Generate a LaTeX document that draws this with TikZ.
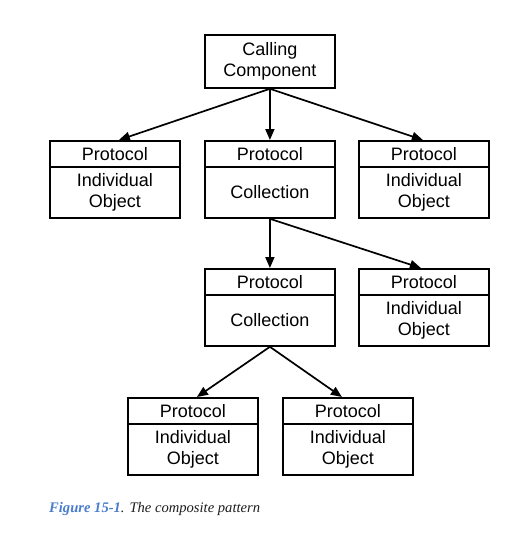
\documentclass[tikz,border=0pt]{standalone}
\usepackage{fontspec}
\setmainfont{Liberation Sans}
\newfontfamily\capfont{Liberation Serif}
\usetikzlibrary{arrows.meta,positioning}
\definecolor{capblue}{RGB}{74,124,206}
\definecolor{captext}{RGB}{30,30,30}
\begin{document}
\begin{tikzpicture}[x=1pt,y=-1pt,
  box/.style={draw=black,line width=1.8pt,minimum width=130pt,inner sep=0pt,
    font=\fontsize{18}{21.5}\selectfont,align=center,anchor=north west},
  head/.style={box,minimum height=26pt},
  body/.style={box,minimum height=51pt},
  conn/.style={line width=1.7pt,-{Triangle[length=11pt,width=9pt]}}]
\useasboundingbox[fill=white] (0,0) rectangle (505,536);
% calling component
\node[box,minimum height=53pt] (cc) at (204,34) {Calling\\Component};
% row 1
\node[head] (p1) at (49,140) {Protocol};
\node[body] (b1) at (49,166) {Individual\\Object};
\node[head] (p2) at (204,140) {Protocol};
\node[body] (b2) at (204,166) {Collection};
\node[head] (p3) at (358,140) {Protocol};
\node[body] (b3) at (358,166) {Individual\\Object};
% row 2
\node[head] (p4) at (204,268) {Protocol};
\node[body] (b4) at (204,294) {Collection};
\node[head] (p5) at (358,268) {Protocol};
\node[body] (b5) at (358,294) {Individual\\Object};
% row 3
\node[head] (p6) at (127,397) {Protocol};
\node[body] (b6) at (127,423) {Individual\\Object};
\node[head] (p7) at (282,397) {Protocol};
\node[body] (b7) at (282,423) {Individual\\Object};
% connectors
\draw[conn] (cc.south) -- ([xshift=4pt]p1.north);
\draw[conn] (cc.south) -- (p2.north);
\draw[conn] (cc.south) -- ([xshift=-1pt]p3.north);
\draw[conn] (b2.south) -- (p4.north);
\draw[conn] (b2.south) -- ([xshift=-3pt]p5.north);
\draw[conn] (b4.south) -- ([xshift=4pt]p6.north);
\draw[conn] (b4.south) -- ([xshift=-6pt]p7.north);
% caption
\node[anchor=west,inner sep=0pt,font=\capfont\itshape\fontsize{14.6}{17}\selectfont] (cap) at (49,509)
  {\textcolor{capblue}{\bfseries Figure 15-1}\textcolor{captext}{. The composite pattern}};
\end{tikzpicture}
\end{document}
